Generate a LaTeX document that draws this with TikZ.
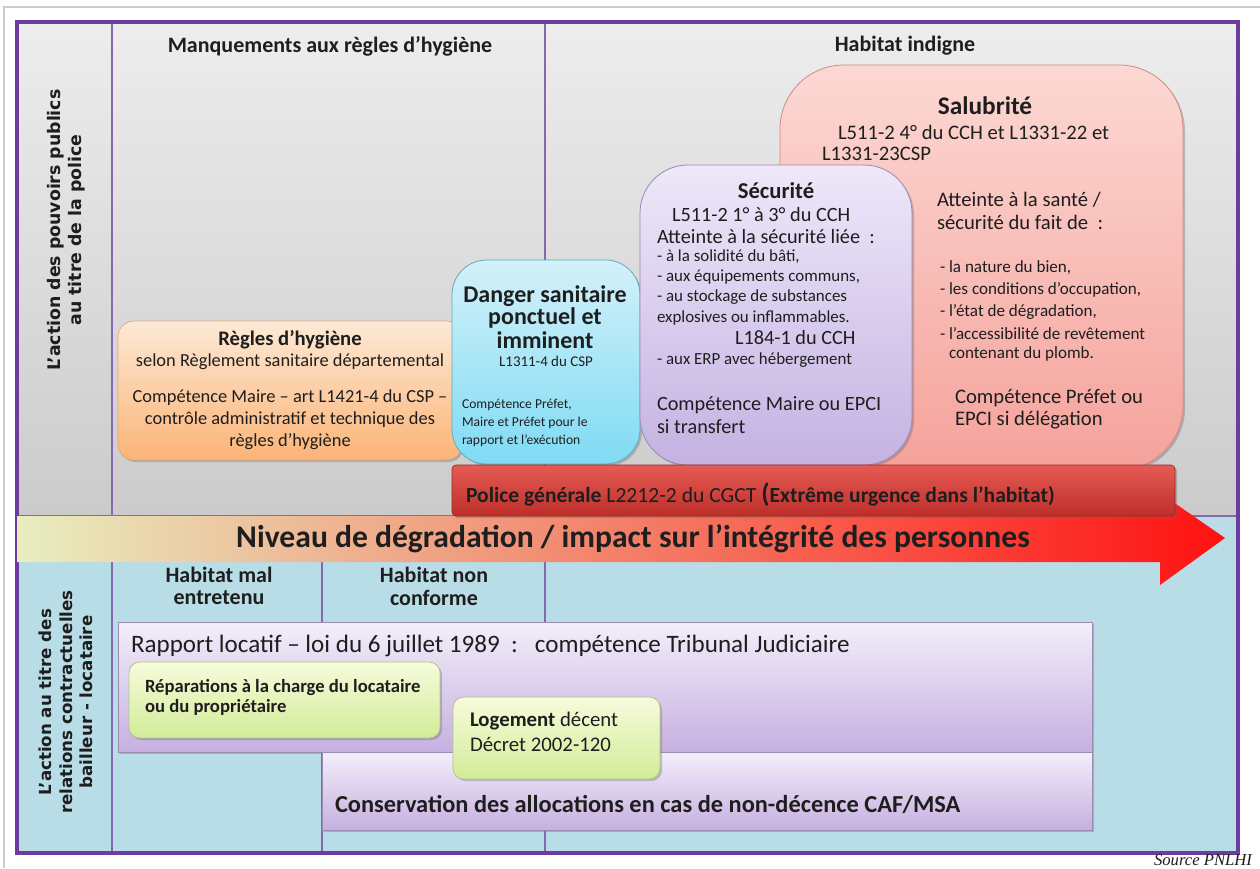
\documentclass[tikz,border=0pt]{standalone}
\usepackage{fontspec}
\setmainfont{Carlito}
\newfontfamily\verd{DejaVu Sans}
\newfontfamily\srcfont{Liberation Serif}
\usetikzlibrary{shadows}
\newcommand\fsz[2]{\fontsize{#1}{#2}\selectfont}
\definecolor{grayT}{HTML}{EDEDED}
\definecolor{grayB}{HTML}{CBCBCB}
\definecolor{blueB}{HTML}{B8DDE7}
\definecolor{frameC}{HTML}{6E3C9E}
\definecolor{divC}{HTML}{8469AE}
\definecolor{salT}{HTML}{FCD8D3}
\definecolor{salB}{HTML}{F5A29B}
\definecolor{salD}{HTML}{CF8A86}
\definecolor{secT}{HTML}{EEE8F9}
\definecolor{secB}{HTML}{C4B2E2}
\definecolor{secD}{HTML}{9A88B6}
\definecolor{danT}{HTML}{D3F1F9}
\definecolor{danB}{HTML}{7FDBF4}
\definecolor{danD}{HTML}{62A9C0}
\definecolor{regT}{HTML}{FDE9D5}
\definecolor{regB}{HTML}{FBB477}
\definecolor{regD}{HTML}{E3A575}
\definecolor{polT}{HTML}{E65B55}
\definecolor{polB}{HTML}{BD2E29}
\definecolor{polD}{HTML}{9E2622}
\definecolor{arrL}{HTML}{E8EEC0}
\definecolor{arrM}{HTML}{F2A57C}
\definecolor{arrR}{HTML}{FF1212}
\definecolor{rapT}{HTML}{F3EEFA}
\definecolor{rapB}{HTML}{C6B0E0}
\definecolor{rapD}{HTML}{9A8CB0}
\definecolor{grnT}{HTML}{F7FBDC}
\definecolor{grnB}{HTML}{D2EC98}
\definecolor{grnD}{HTML}{AFC684}
\definecolor{txt}{HTML}{1E1E1E}
\begin{document}
\begin{tikzpicture}[x=0.75pt,y=-0.75pt,
  every node/.style={inner sep=0pt,outer sep=0pt,text=txt},
  divider/.style={draw=divC,line width=2.2pt},
  frame/.style={draw=frameC,line width=3.5pt},
  boxshadow/.style={drop shadow={shadow xshift=1.5pt,shadow yshift=-1.5pt,opacity=0.35,fill=black!60}},
  vlab/.style={rotate=90,align=center,font=\verd\bfseries\fsz{13}{16}},
  lw/.style={anchor=west},
]
\clip (0,0) rectangle (1260,868);
\fill[white] (0,0) rectangle (1260,868);
\draw[black!20,line width=0.8pt] (4,868) -- (4,7) -- (1260,7);

% sections
\shade[top color=grayT,bottom color=grayB] (17,22) rectangle (1238,516);
\fill[blueB] (17,516) rectangle (1238,853);
\draw[divider] (112,22) -- (112,853);
\draw[divider] (545,22) -- (545,516);
\draw[divider] (322,562) -- (322,853);
\draw[divider] (545,562) -- (545,853);
\draw[divider] (17,516) -- (1238,516);
\draw[frame] (17,22) rectangle (1238,853);

% column headers
\node[font=\bfseries\fsz{16.5}{18}] (hman) at (330,46) {Manquements aux règles d’hygiène};
\node[font=\bfseries\fsz{16.5}{18}] (hind) at (905,46) {Habitat indigne};
\node[vlab] (lab1) at (66,230) {L’action des pouvoirs publics\\au titre de la police};

% Regles d'hygiene
\shade[boxshadow,rounded corners=12pt,top color=regT,bottom color=regB,draw=regD,line width=0.5pt] (118,321) rectangle (462,460);
\begin{scope}[every node/.append style={font=\fsz{13.8}{16}}]
\node[font=\bfseries\fsz{15.5}{18}] (regt) at (290,340) {Règles d’hygiène};
\node (reg1) at (290,362) {selon Règlement sanitaire départemental};
\node (reg2) at (290,398) {Compétence Maire – art L1421-4 du CSP –};
\node (reg3) at (290,420) {contrôle administratif et technique des};
\node (reg4) at (290,442) {règles d’hygiène};
\end{scope}

% Danger sanitaire
\shade[boxshadow,rounded corners=26pt,top color=danT,bottom color=danB,draw=danD,line width=0.6pt] (452,260) rectangle (640,464);
\begin{scope}[every node/.append style={font=\bfseries\fsz{18}{20}}]
\node (dan1) at (545,296) {Danger sanitaire};
\node (dan2) at (545,318) {ponctuel et};
\node (dan3) at (545,340) {imminent};
\end{scope}
\node[font=\fsz{11.2}{14}] (danr) at (546,361) {L1311-4 du CSP};
\begin{scope}[every node/.append style={lw,font=\fsz{10.2}{12}}]
\node (danb1) at (462,405) {Compétence Préfet,};
\node (danb2) at (462,423) {Maire et Préfet pour le};
\node (danb3) at (462,441) {rapport et l’exécution};
\end{scope}

% Salubrite
\shade[boxshadow,rounded corners=48pt,top color=salT,bottom color=salB,draw=salD,line width=0.6pt] (780,65) rectangle (1183,470);
\node[font=\bfseries\fsz{19}{20}] (salt) at (985,106) {Salubrité};
\begin{scope}[every node/.append style={lw,font=\fsz{15.5}{18}}]
\node (salr1) at (838,132) {L511-2 4° du CCH et L1331-22 et};
\node (salr2) at (822,154) {L1331-23CSP};
\node (sala1) at (937,200) {Atteinte à la santé /};
\node (sala2) at (937,222) {sécurité du fait de~~:};
\node (salc1) at (955,398) {Compétence Préfet ou};
\node (salc2) at (955,420) {EPCI si délégation};
\end{scope}
\begin{scope}[every node/.append style={lw,font=\fsz{12.8}{15}}]
\node (sall1) at (940,268) {- la nature du bien,};
\node (sall2) at (940,290) {- les conditions d’occupation,};
\node (sall3) at (940,312) {- l’état de dégradation,};
\node (sall4) at (940,334) {- l’accessibilité de revêtement};
\node (sall5) at (949,354) {contenant du plomb.};
\end{scope}

% Securite
\shade[boxshadow,rounded corners=36pt,top color=secT,bottom color=secB,draw=secD,line width=0.6pt] (640,165) rectangle (912,465);
\node[font=\bfseries\fsz{17}{18}] (sect) at (776,191) {Sécurité};
\begin{scope}[every node/.append style={lw,font=\fsz{15.2}{18}}]
\node (secr) at (672,215) {L511-2 1° à 3° du CCH};
\node (seca) at (657,237) {Atteinte à la sécurité liée~~:};
\node (secl2) at (735,338) {L184-1 du CCH};
\node (secc1) at (657,405) {Compétence Maire ou EPCI};
\node (secc2) at (657,427) {si transfert};
\end{scope}
\begin{scope}[every node/.append style={lw,font=\fsz{12.7}{15}}]
\node (secl1a) at (657,257) {- à la solidité du bâti,};
\node (secl1b) at (657,277) {- aux équipements communs,};
\node (secl1c) at (657,297) {- au stockage de substances};
\node (secl1d) at (657,318) {explosives ou inflammables.};
\node (secl3) at (657,360) {- aux ERP avec hébergement};
\end{scope}

% Arrow band
\shade[left color=arrL,middle color=arrM,right color=arrR]
  (17,516) -- (1160,516) -- (1160,493) -- (1225,538) -- (1160,585) -- (1160,562) -- (17,562) -- cycle;
\node[font=\bfseries\fsz{23.7}{26}] (niv) at (633,539) {Niveau de dégradation / impact sur l’intégrité des personnes};

% Police generale
\shade[boxshadow,rounded corners=3pt,top color=polT,bottom color=polB,draw=polD,line width=0.5pt] (452,465) rectangle (1175,516);
\node[lw,font=\fsz{16.2}{18}] (pol) at (466,495) {\textbf{Police générale} L2212-2 du CGCT \textbf{{\fsz{20}{20}(}Extrême urgence dans l’habitat)}};

% bottom section
\node[vlab,font=\verd\bfseries\fsz{12.5}{15.5}] (lab2) at (66,702) {L’action au titre des\\relations contractuelles\\bailleur - locataire};
\begin{scope}[every node/.append style={font=\bfseries\fsz{16.5}{18}}]
\node (hmal1) at (219,575) {Habitat mal};
\node (hmal2) at (219,598) {entretenu};
\node (hnon1) at (434,575) {Habitat non};
\node (hnon2) at (434,598) {conforme};
\end{scope}

\shade[boxshadow,top color=rapT,bottom color=rapB,draw=rapD,line width=0.6pt] (118,622) rectangle (1092,752);
\node[lw,font=\fsz{18.8}{20}] (rap) at (131,646) {Rapport locatif – loi du 6 juillet 1989~~:~~~compétence Tribunal Judiciaire};
\shade[boxshadow,top color=rapT,bottom color=rapB,draw=rapD,line width=0.6pt] (322,752) rectangle (1092,830);
\node[lw,font=\bfseries\fsz{18.3}{20}] (cons) at (335,804) {Conservation des allocations en cas de non-décence CAF/MSA};

\shade[boxshadow,rounded corners=8pt,top color=grnT,bottom color=grnB,draw=grnD,line width=0.6pt] (129,662) rectangle (440,738);
\begin{scope}[every node/.append style={lw,font=\bfseries\fsz{14}{16}}]
\node (rep1) at (145,688) {Réparations à la charge du locataire};
\node (rep2) at (145,707) {ou du propriétaire};
\end{scope}
\shade[boxshadow,rounded corners=8pt,top color=grnT,bottom color=grnB,draw=grnD,line width=0.6pt] (453,697) rectangle (660,779);
\begin{scope}[every node/.append style={lw,font=\fsz{15.6}{18}}]
\node (log1) at (470,721) {\textbf{Logement} décent};
\node (log2) at (470,744) {Décret 2002-120};
\end{scope}

\node[font=\srcfont\itshape\fsz{12.5}{14},anchor=base east] (src) at (1252,865) {Source PNLHI};
\end{tikzpicture}
\end{document}
